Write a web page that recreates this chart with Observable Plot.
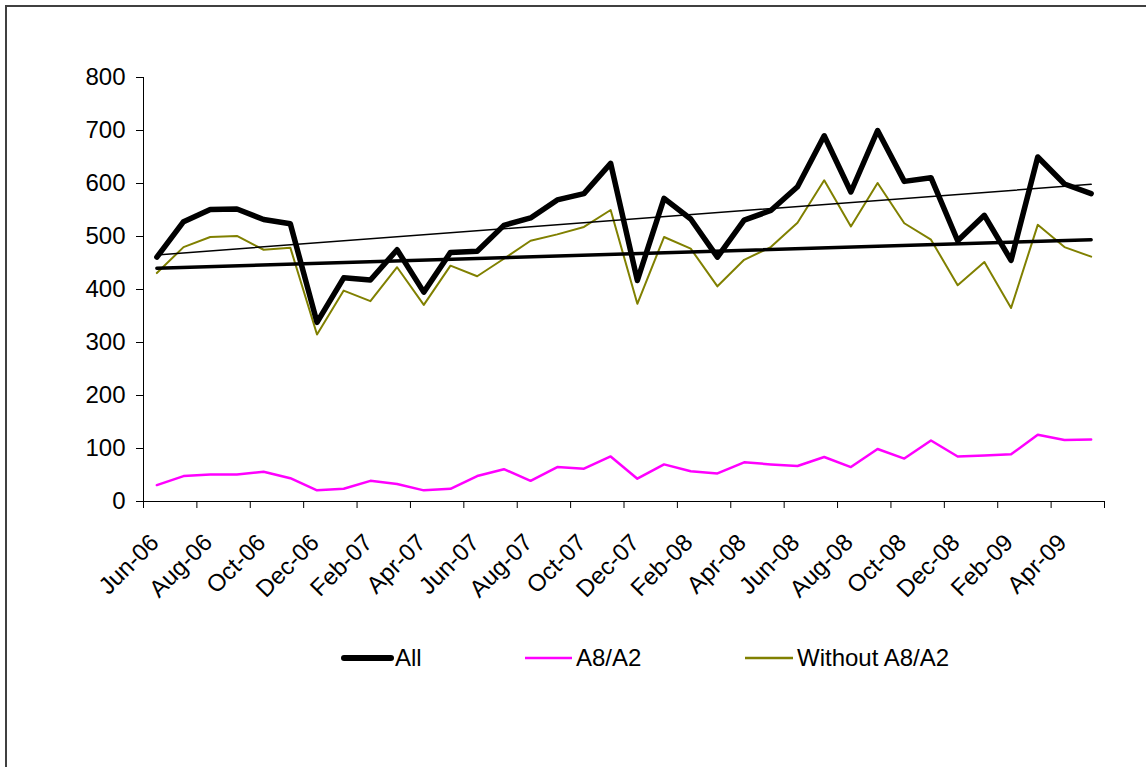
<!DOCTYPE html>
<html>
<head>
<meta charset="utf-8">
<script src="https://cdn.jsdelivr.net/npm/d3@7"></script>
<script src="https://cdn.jsdelivr.net/npm/@observablehq/plot@0.6"></script>
<style>
  html, body { margin: 0; padding: 0; background: #fff; }
  #wrap { position: relative; width: 1146px; height: 767px; overflow: hidden; background: #fff;
          font-family: "Liberation Sans", Arial, sans-serif; }
  #frame { position: absolute; left: 5px; top: 5px; width: 1200px; height: 800px;
           border: 2px solid #404040; box-sizing: border-box; }
  #chart { position: absolute; left: 0; top: 0; }
  #legend { position: absolute; left: 0; top: 630px; }
</style>
</head>
<body>
<div id="wrap">
  <div id="frame"></div>
  <div id="chart"></div>
  <svg id="legend" width="1146" height="60"></svg>
</div>
<script>
const months = ["Jun-06","Jul-06","Aug-06","Sep-06","Oct-06","Nov-06","Dec-06","Jan-07","Feb-07","Mar-07","Apr-07","May-07",
  "Jun-07","Jul-07","Aug-07","Sep-07","Oct-07","Nov-07","Dec-07","Jan-08","Feb-08","Mar-08","Apr-08","May-08",
  "Jun-08","Jul-08","Aug-08","Sep-08","Oct-08","Nov-08","Dec-08","Jan-09","Feb-09","Mar-09","Apr-09","May-09"];
const allValues = [461,528,551,552,532,524,338,422,418,475,395,470,472,521,535,569,581,638,417,572,533,461,531,549,594,690,584,700,604,611,492,540,455,650,599,581];
const a8a2Values = [31,48,51,51,56,44,21,24,39,33,21,24,48,61,39,65,62,85,43,70,57,53,74,70,67,84,65,99,81,115,85,87,89,126,116,117];
const withoutValues = [431,480,499,501,475,479,315,398,378,442,371,445,425,458,492,504,518,550,373,499,477,406,456,480,526,606,519,601,525,494,408,452,365,522,480,462];
const yTicks = [0,100,200,300,400,500,600,700,800];
const seriesNames = ["All","A8/A2","Without A8/A2"];
const seriesColors = ["#000000","#ff00ff","#808000"];

const data = months.map((m, i) => ({i, month: m, all: allValues[i], a8: a8a2Values[i], without: withoutValues[i]}));
const labelIdx = months.map((m, i) => i).filter(i => i % 2 === 0);
const boundaries = d3.range(0, months.length + 1, 2).map(b => b - 0.5);

const font = "Liberation Sans, Arial, sans-serif";
const fs = 24;
const chart = Plot.plot({
  width: 1146,
  height: 620,
  marginLeft: 143,
  marginRight: 42,
  marginTop: 77,
  marginBottom: 119,
  style: {fontFamily: font, fontSize: fs + "px", color: "#000", background: "transparent", overflow: "visible"},
  x: {type: "linear", domain: [-0.5, months.length - 0.5]},
  y: {domain: [0, 800]},
  marks: [
    Plot.lineY(data, {x: "i", y: "a8", stroke: seriesColors[1], strokeWidth: 2.5}),
    Plot.lineY(data, {x: "i", y: "without", stroke: seriesColors[2], strokeWidth: 2}),
    Plot.linearRegressionY(data, {x: "i", y: "without", stroke: "#000", strokeWidth: 3.5, ci: 0}),
    Plot.linearRegressionY(data, {x: "i", y: "all", stroke: "#000", strokeWidth: 1.5, ci: 0}),
    Plot.lineY(data, {x: "i", y: "all", stroke: seriesColors[0], strokeWidth: 5.5, strokeLinejoin: "round", strokeLinecap: "round"}),
    Plot.ruleX([-0.5], {stroke: "#000", strokeWidth: 1}),
    Plot.ruleY([0], {stroke: "#000", strokeWidth: 1}),
    Plot.axisY({ticks: yTicks, tickSize: 7, tickPadding: 11, fontSize: fs, label: null, tickFormat: d => String(d)}),
    Plot.axisX({ticks: boundaries, tickSize: 7, tickFormat: () => "", label: null}),
    Plot.axisX({ticks: labelIdx, tickSize: 0, tickPadding: 37, tickRotate: -45, fontSize: fs, label: null,
                tickFormat: i => months[i], dx: -2})
  ]
});
document.getElementById("chart").appendChild(chart);

// Legend
const legend = d3.select("#legend");
const items = [
  {name: seriesNames[0], color: seriesColors[0], w: 6, x0: 344, x1: 391, tx: 395},
  {name: seriesNames[1], color: seriesColors[1], w: 2.5, x0: 525, x1: 572, tx: 576},
  {name: seriesNames[2], color: seriesColors[2], w: 2.5, x0: 745, x1: 793, tx: 797}
];
const ly = 28;
items.forEach(it => {
  legend.append("line").attr("x1", it.x0).attr("x2", it.x1).attr("y1", ly).attr("y2", ly)
    .attr("stroke", it.color).attr("stroke-width", it.w).attr("stroke-linecap", it.w > 4 ? "round" : "butt");
  legend.append("text").attr("x", it.tx).attr("y", ly).attr("dy", "0.35em")
    .attr("font-family", font).attr("font-size", fs).attr("fill", "#000").text(it.name);
});
</script>
</body>
</html>
